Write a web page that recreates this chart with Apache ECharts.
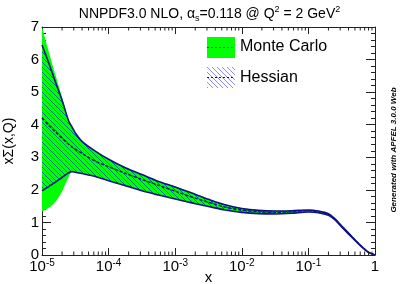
<!DOCTYPE html>
<html><head><meta charset="utf-8">
<script src="https://cdn.jsdelivr.net/npm/echarts@6/dist/echarts.min.js"></script>
<style>html,body{margin:0;padding:0;background:#fff}#c{width:419px;height:284px}</style>
</head><body><div id="c"></div>
<script>
// x values (log-spaced reading points)
const xValues = [1e-5, 1.26e-5, 1.58e-5, 2e-5, 2.51e-5, 2.82e-5, 3.16e-5, 3.98e-5, 6.31e-5, 1e-4,
  1.78e-4, 3.16e-4, 5.62e-4, 1e-3, 1.78e-3, 3.16e-3, 5.62e-3, 1e-2, 1.78e-2, 3.16e-2,
  5.62e-2, 0.1, 0.141, 0.2, 0.251, 0.316, 0.398, 0.501, 0.631, 0.794, 1];
const mcUpper = [7.0, 6.25, 5.55, 4.85, 4.15, 3.94, 3.76, 3.5, 3.2, 2.95,
  2.69, 2.48, 2.27, 2.1, 1.91, 1.72, 1.55, 1.44, 1.38, 1.36,
  1.37, 1.39, 1.36, 1.28, 1.12, 0.9, 0.69, 0.47, 0.27, 0.1, 0];
const mcLower = [1.33, 1.45, 1.63, 1.95, 2.4, 2.56, 2.54, 2.5, 2.41, 2.28,
  2.13, 1.97, 1.84, 1.72, 1.6, 1.49, 1.38, 1.31, 1.27, 1.26,
  1.28, 1.32, 1.3, 1.22, 1.08, 0.86, 0.65, 0.45, 0.25, 0.08, 0];
const mcCentral = [4.2, 3.98, 3.78, 3.58, 3.4, 3.32, 3.25, 3.12, 2.88, 2.71,
  2.51, 2.32, 2.14, 1.96, 1.78, 1.62, 1.47, 1.38, 1.33, 1.31,
  1.33, 1.36, 1.33, 1.25, 1.1, 0.88, 0.67, 0.46, 0.26, 0.09, 0];
const hUpper = [6.45, 5.9, 5.33, 4.75, 4.12, 3.93, 3.75, 3.49, 3.19, 2.94,
  2.68, 2.47, 2.26, 2.09, 1.9, 1.71, 1.54, 1.43, 1.37, 1.35,
  1.36, 1.38, 1.35, 1.27, 1.11, 0.89, 0.68, 0.46, 0.26, 0.09, 0];
const hLower = [1.97, 2.1, 2.23, 2.38, 2.52, 2.56, 2.54, 2.5, 2.41, 2.28,
  2.13, 1.97, 1.84, 1.72, 1.6, 1.49, 1.38, 1.31, 1.27, 1.26,
  1.28, 1.32, 1.3, 1.22, 1.08, 0.86, 0.65, 0.45, 0.25, 0.08, 0];
const hCentral = [4.2, 3.98, 3.78, 3.58, 3.4, 3.32, 3.25, 3.12, 2.88, 2.71,
  2.51, 2.32, 2.14, 1.96, 1.78, 1.62, 1.47, 1.38, 1.33, 1.31,
  1.33, 1.36, 1.33, 1.25, 1.1, 0.88, 0.67, 0.46, 0.26, 0.09, 0];
const xMinorTicks = [2e-5,3e-5,4e-5,5e-5,6e-5,7e-5,8e-5,9e-5,
  2e-4,3e-4,4e-4,5e-4,6e-4,7e-4,8e-4,9e-4,
  2e-3,3e-3,4e-3,5e-3,6e-3,7e-3,8e-3,9e-3,
  2e-2,3e-2,4e-2,5e-2,6e-2,7e-2,8e-2,9e-2,
  0.2,0.3,0.4,0.5,0.6,0.7,0.8,0.9];
const yMin = 0, yMax = 7, yInterval = 1;
const xMin = 1e-5, xMax = 1;

const NAVY = '#121288';
const GREEN = '#00ff00';
const DKGREEN = '#007a00';
const FONT = 'Liberation Sans, Arial, sans-serif';

function makeHatch(alpha) {
  const s = 5;
  const c = document.createElement('canvas');
  c.width = s; c.height = s;
  const g = c.getContext('2d');
  g.strokeStyle = 'rgba(0,0,255,' + alpha + ')';
  g.lineWidth = 1;
  for (const k of [-s, 0, s]) {
    g.beginPath(); g.moveTo(k, 0); g.lineTo(k + s, s); g.stroke();
  }
  return c;
}
const hatchCanvas = makeHatch(0.55);
const hatchCanvasLegend = makeHatch(0.45);

const pts = ys => xValues.map((x, i) => [x, ys[i]]);

// Catmull-Rom smoothed path through screen points (rendering only)
function crPath(p, start) {
  let d = start ? 'M' + p[0][0] + ' ' + p[0][1] : 'L' + p[0][0] + ' ' + p[0][1];
  const k = 0.16;
  for (let i = 0; i < p.length - 1; i++) {
    const p0 = p[Math.max(0, i - 1)], p1 = p[i], p2 = p[i + 1], p3 = p[Math.min(p.length - 1, i + 2)];
    const c1 = [p1[0] + (p2[0] - p0[0]) * k, p1[1] + (p2[1] - p0[1]) * k];
    const c2 = [p2[0] - (p3[0] - p1[0]) * k, p2[1] - (p3[1] - p1[1]) * k];
    d += ' C' + c1[0] + ' ' + c1[1] + ' ' + c2[0] + ' ' + c2[1] + ' ' + p2[0] + ' ' + p2[1];
  }
  return d;
}

function bandSeries(name, upper, lower, fill, z) {
  return {
    type: 'custom', name: name, silent: true, animation: false, z: z,
    xAxisIndex: 0, yAxisIndex: 0, clip: true,
    data: [[1e-3, 1]],
    renderItem: function (params, api) {
      const up = xValues.map((x, i) => api.coord([x, upper[i]]));
      const lo = xValues.map((x, i) => api.coord([x, lower[i]])).reverse();
      const d = crPath(up, true) + ' ' + crPath(lo, false) + ' Z';
      return {type: 'path', shape: {pathData: d}, style: {fill: fill, stroke: null}};
    }
  };
}

const chart = echarts.init(document.getElementById('c'), null, {renderer: 'canvas'});

const baseLine = {type: 'line', symbol: 'none', smooth: 0.3, silent: true, animation: false};

function expLabel(v) {
  const n = Math.round(Math.log10(v));
  if (n === 0) return '{b|1}';
  return '{b|10}{e|' + n + '}';
}
const xRich = {
  b: {fontSize: 15, lineHeight: 18, fontFamily: FONT, color: '#000'},
  e: {fontSize: 10, lineHeight: 10, padding: [0, 0, 8, 0], fontFamily: FONT, color: '#000'}
};

const axisCol = '#222';

const option = {
  animation: false,
  backgroundColor: '#fff',
  title: {
    text: '{n|NNPDF3.0 NLO, α}{sub|s}{n|=0.118 @ Q}{sup|2}{n| = 2 GeV}{sup|2}',
    left: 'center', top: 0,
    textStyle: {
      fontWeight: 'normal',
      rich: {
        n: {fontSize: 14, lineHeight: 18, fontFamily: FONT, fontWeight: 'normal', color: '#000'},
        sub: {fontSize: 9, lineHeight: 9, padding: [9, 0, 0, 0], fontFamily: FONT, fontWeight: 'normal', color: '#000'},
        sup: {fontSize: 9, lineHeight: 9, padding: [0, 0, 9, 0], fontFamily: FONT, fontWeight: 'normal', color: '#000'}
      }
    }
  },
  grid: {left: 42, right: 44, top: 27, bottom: 29, containLabel: false, outerBoundsMode: 'none'},
  xAxis: [{
    type: 'log', logBase: 10, min: xMin, max: xMax, position: 'bottom',
    name: 'x', nameLocation: 'middle', nameGap: 15, nameMoveOverlap: false,
    nameTextStyle: {fontSize: 15, fontFamily: FONT, color: '#000'},
    axisLine: {show: true, onZero: false, lineStyle: {color: axisCol, width: 1}},
    axisTick: {show: true, inside: true, length: 7, lineStyle: {color: axisCol}},
    axisLabel: {margin: 3, formatter: expLabel, rich: xRich},
    splitLine: {show: false}
  }, {
    type: 'log', logBase: 10, min: xMin, max: xMax, position: 'top',
    axisLine: {show: true, onZero: false, lineStyle: {color: axisCol, width: 1}},
    axisTick: {show: true, inside: true, length: 7, lineStyle: {color: axisCol}},
    axisLabel: {show: false},
    splitLine: {show: false}
  }],
  yAxis: [{
    type: 'value', min: yMin, max: yMax, interval: yInterval, position: 'left',
    name: 'xΣ(x,Q)', nameLocation: 'middle', nameGap: 26, nameRotate: 90, nameMoveOverlap: false,
    nameTextStyle: {fontSize: 14, fontFamily: FONT, color: '#000'},
    axisLine: {show: true, onZero: false, lineStyle: {color: axisCol, width: 1}},
    axisTick: {show: true, inside: true, length: 9, lineStyle: {color: axisCol}},
    minorTick: {show: true, splitNumber: 5, length: 4, lineStyle: {color: axisCol}},
    axisLabel: {margin: 3, fontSize: 15, fontFamily: FONT, color: '#000'},
    splitLine: {show: false}
  }, {
    type: 'value', min: yMin, max: yMax, interval: yInterval, position: 'right',
    axisLine: {show: true, onZero: false, lineStyle: {color: axisCol, width: 1}},
    axisTick: {show: true, inside: true, length: 9, lineStyle: {color: axisCol}},
    minorTick: {show: true, splitNumber: 5, length: 4, lineStyle: {color: axisCol}},
    axisLabel: {show: false},
    splitLine: {show: false}
  }],
  series: [
    bandSeries('Monte Carlo', mcUpper, mcLower, GREEN, 1),
    bandSeries('Hessian', hUpper, hLower, {image: hatchCanvas, repeat: 'repeat'}, 2),
    Object.assign({}, baseLine, {name: 'mcCentral', data: pts(mcCentral), lineStyle: {color: DKGREEN, width: 1, type: [2, 2]}, z: 3}),
    Object.assign({}, baseLine, {name: 'hUpperLine', data: pts(hUpper), lineStyle: {color: NAVY, width: 1.6}, z: 4}),
    Object.assign({}, baseLine, {name: 'hLowerLine', data: pts(hLower), lineStyle: {color: NAVY, width: 1.6}, z: 4}),
    Object.assign({}, baseLine, {name: 'hCentral', data: pts(hCentral), lineStyle: {color: NAVY, width: 1.4, type: [3, 2]}, z: 5}),
    {
      type: 'custom', name: 'minorTicks', silent: true, animation: false, z: 10,
      xAxisIndex: 0, yAxisIndex: 0,
      data: xMinorTicks.map(v => [v, yMin]),
      clip: false,
      renderItem: function (params, api) {
        const bot = api.coord([api.value(0), yMin]);
        const top = api.coord([api.value(0), yMax]);
        const st = {stroke: axisCol, lineWidth: 1};
        return {type: 'group', children: [
          {type: 'line', shape: {x1: bot[0], y1: bot[1], x2: bot[0], y2: bot[1] - 3.5}, style: st},
          {type: 'line', shape: {x1: top[0], y1: top[1], x2: top[0], y2: top[1] + 3.5}, style: st}
        ]};
      }
    }
  ],
  graphic: [
    {type: 'rect', left: 207, top: 37, shape: {width: 28, height: 21}, style: {fill: GREEN}},
    {type: 'line', shape: {x1: 207, y1: 47.5, x2: 235, y2: 47.5}, style: {stroke: DKGREEN, lineWidth: 1, lineDash: [2, 2]}},
    {type: 'text', left: 240, top: 39, style: {text: 'Monte Carlo', fontSize: 16, fontFamily: FONT, fill: '#000'}},
    {type: 'rect', left: 207, top: 67, shape: {width: 28, height: 21}, style: {fill: {image: hatchCanvasLegend, repeat: 'repeat'}}},
    {type: 'line', shape: {x1: 207, y1: 77.5, x2: 235, y2: 77.5}, style: {stroke: NAVY, lineWidth: 1, lineDash: [2, 2]}},
    {type: 'text', left: 240, top: 70, style: {text: 'Hessian', fontSize: 16, fontFamily: FONT, fill: '#000'}},
    {type: 'text', x: 394, y: 150, rotation: Math.PI / 2,
      style: {text: 'Generated with APFEL 3.0.0 Web', fontSize: 8, fontWeight: 'bold', fontStyle: 'italic',
        fontFamily: FONT, fill: '#000', align: 'center', verticalAlign: 'middle'}}
  ]
};
chart.setOption(option);
</script>
</body></html>
